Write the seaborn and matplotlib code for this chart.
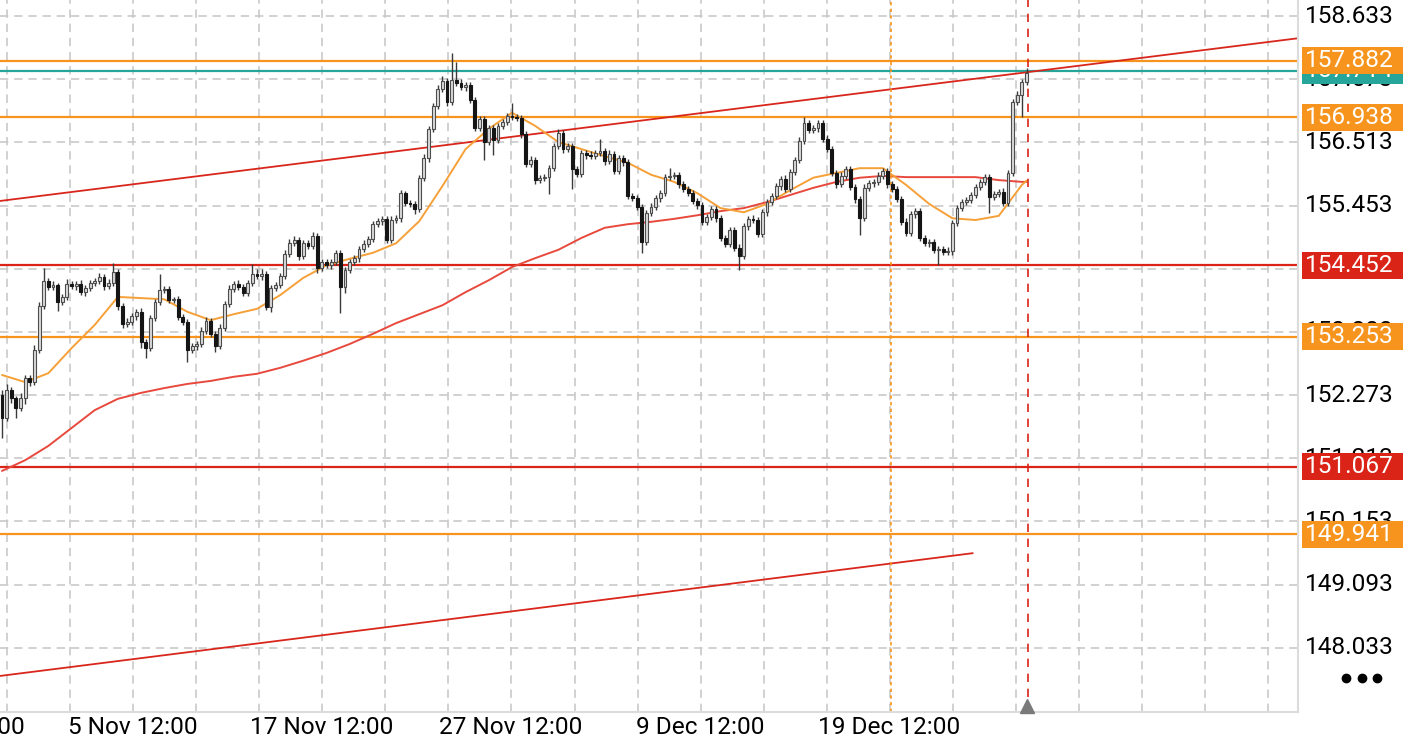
import numpy as np
import pandas as pd
import matplotlib
import matplotlib.pyplot as plt
import matplotlib.transforms as mtransforms
from matplotlib.patches import Rectangle
from matplotlib.lines import Line2D
import seaborn as sns

matplotlib.use('Agg')

# --- Data (one candle per entry) ---
first_open = 152.27
closes = [
    151.89, 152.36, 152.22, 152.06, 152.22, 152.56, 152.49, 153.03, 153.77, 154.19,
    154.09, 154.12, 153.83, 153.92, 154.14, 154.10, 154.14, 154.00, 154.07, 154.15,
    154.19, 154.25, 154.10, 154.15, 154.34, 153.77, 153.47, 153.50, 153.60, 153.67,
    153.16, 153.06, 153.57, 153.83, 154.03, 154.05, 153.87, 153.88, 153.58, 153.50,
    153.03, 153.10, 153.13, 153.35, 153.52, 153.30, 153.10, 153.40, 153.80, 154.05,
    154.14, 154.09, 153.99, 154.15, 154.30, 154.27, 154.30, 153.75, 154.07, 154.12,
    154.27, 154.64, 154.82, 154.87, 154.60, 154.82, 154.77, 154.94, 154.40, 154.50,
    154.45, 154.50, 154.65, 154.09, 154.37, 154.50, 154.57, 154.72, 154.81, 154.89,
    155.14, 155.19, 155.23, 154.87, 155.21, 155.24, 155.66, 155.50, 155.48, 155.39,
    155.92, 156.25, 156.74, 157.12, 157.41, 157.54, 157.19, 157.56, 157.51, 157.44,
    157.47, 157.22, 156.75, 156.90, 156.52, 156.75, 156.55, 156.79, 156.86, 156.96,
    156.94, 156.92, 156.65, 156.15, 156.22, 155.88, 155.92, 155.93, 156.08, 156.45,
    156.67, 156.40, 156.45, 156.06, 155.98, 156.33, 156.30, 156.28, 156.33, 156.37,
    156.20, 156.32, 156.03, 156.25, 156.18, 155.61, 155.58, 155.43, 154.84, 155.33,
    155.43, 155.58, 155.66, 155.93, 155.95, 155.97, 155.81, 155.73, 155.66, 155.53,
    155.46, 155.18, 155.26, 155.39, 155.24, 154.91, 154.81, 155.04, 154.74, 154.60,
    155.11, 155.23, 155.21, 154.97, 155.34, 155.51, 155.61, 155.78, 155.90, 155.73,
    156.02, 156.22, 156.54, 156.84, 156.72, 156.75, 156.84, 156.57, 156.40, 156.00,
    155.81, 155.95, 156.07, 155.76, 155.56, 155.24, 155.75, 155.83, 155.85, 155.95,
    156.03, 155.81, 155.73, 155.56, 155.18, 154.99, 155.31, 155.36, 154.91, 154.82,
    154.84, 154.71, 154.72, 154.67, 154.69, 155.16, 155.41, 155.51, 155.55, 155.63,
    155.76, 155.85, 155.93, 155.60, 155.65, 155.68, 155.50, 156.00, 157.19, 157.31,
    157.53, 157.68,
]
wick_up = [
    .08, .10, .05, .04, .08, .05, .05, .09, .06, .22,
    .05, .06, .04, .05, .08, .05, .04, .06, .05, .05,
    .05, .07, .05, .07, .15, .04, .05, .06, .05, .05,
    .06, .05, .05, .06, .28, .06, .05, .04, .05, .06,
    .05, .05, .05, .06, .07, .05, .04, .06, .05, .07,
    .05, .06, .05, .06, .18, .08, .08, .05, .05, .05,
    .05, .06, .07, .08, .05, .06, .05, .07, .05, .05,
    .06, .05, .05, .05, .05, .06, .05, .05, .06, .05,
    .05, .06, .05, .05, .06, .05, .05, .04, .05, .05,
    .05, .06, .05, .05, .06, .08, .05, .45, .30, .07,
    .05, .06, .05, .06, .05, .05, .06, .05, .05, .05,
    .22, .05, .05, .05, .06, .05, .05, .05, .06, .05,
    .06, .05, .05, .05, .06, .05, .05, .06, .05, .20,
    .05, .06, .05, .05, .05, .05, .06, .05, .05, .05,
    .06, .05, .05, .05, .13, .05, .05, .06, .05, .05,
    .05, .06, .05, .05, .05, .06, .05, .05, .05, .06,
    .05, .05, .06, .05, .05, .05, .06, .05, .05, .06,
    .05, .05, .06, .10, .05, .06, .05, .05, .06, .05,
    .05, .06, .05, .05, .05, .05, .06, .05, .05, .06,
    .05, .05, .06, .05, .05, .06, .05, .05, .06, .05,
    .05, .06, .05, .05, .06, .05, .05, .06, .05, .05,
    .06, .05, .05, .06, .05, .05, .06, .05, .05, .06,
    .05, .08,
]
wick_dn = [
    .34, .05, .08, .17, .05, .10, .07, .05, .05, .05,
    .05, .05, .15, .05, .05, .05, .07, .05, .06, .05,
    .05, .05, .06, .05, .05, .07, .08, .06, .05, .06,
    .10, .17, .05, .05, .05, .05, .06, .05, .05, .05,
    .20, .05, .07, .05, .05, .06, .10, .05, .05, .05,
    .05, .05, .06, .05, .05, .05, .06, .05, .08, .05,
    .05, .05, .05, .05, .06, .05, .05, .05, .08, .05,
    .05, .06, .05, .44, .10, .05, .05, .06, .05, .05,
    .05, .05, .06, .05, .05, .05, .06, .05, .05, .08,
    .05, .05, .06, .05, .05, .05, .06, .05, .05, .05,
    .06, .05, .05, .05, .30, .05, .25, .05, .06, .05,
    .05, .05, .06, .05, .05, .06, .05, .05, .28, .05,
    .05, .06, .05, .33, .05, .05, .06, .05, .05, .05,
    .06, .05, .05, .05, .06, .05, .05, .06, .18, .05,
    .05, .05, .06, .05, .05, .05, .06, .05, .05, .05,
    .06, .05, .05, .05, .06, .05, .05, .06, .05, .23,
    .05, .06, .05, .05, .05, .06, .05, .05, .06, .05,
    .05, .05, .06, .05, .05, .05, .06, .05, .05, .05,
    .06, .05, .05, .05, .06, .28, .05, .05, .06, .05,
    .05, .06, .05, .05, .06, .05, .05, .06, .05, .05,
    .06, .05, .25, .05, .05, .06, .05, .05, .05, .06,
    .05, .05, .06, .27, .05, .05, .06, .05, .05, .05,
    .37, .05,
]

# moving averages, sampled every 5 candles (+ last candle)
ma_index = list(range(0, 221, 5)) + [221]
ma_fast = [
    152.61, 152.49, 152.64, 153.06, 153.45, 153.92, 153.90, 153.88, 153.67, 153.53,
    153.63, 153.72, 153.95, 154.24, 154.45, 154.56, 154.66, 154.82, 155.19, 155.78,
    156.40, 156.74, 157.01, 156.79, 156.52, 156.40, 156.28, 156.17, 155.97, 155.85,
    155.66, 155.41, 155.34, 155.48, 155.71, 155.92, 156.00, 156.08, 156.08, 155.80,
    155.48, 155.24, 155.21, 155.28, 155.80, 155.87,
]
ma_slow = [
    151.00, 151.18, 151.42, 151.72, 152.02, 152.21, 152.31, 152.39, 152.46, 152.51,
    152.58, 152.63, 152.73, 152.85, 152.98, 153.13, 153.30, 153.48, 153.63, 153.78,
    154.00, 154.20, 154.42, 154.57, 154.71, 154.91, 155.08, 155.14, 155.18, 155.23,
    155.29, 155.36, 155.41, 155.51, 155.63, 155.75, 155.85, 155.92, 155.95, 155.93,
    155.93, 155.93, 155.93, 155.88, 155.85, 155.85,
]

price_ticks = [158.633, 157.573, 156.513, 155.453, 154.393, 153.333,
               152.273, 151.213, 150.153, 149.093, 148.033]
levels = [157.714, 157.882, 156.938, 154.452, 153.253, 151.067, 149.941]
level_colors = ['#26A69A', '#F7941D', '#F7941D', '#DA2418', '#F7941D', '#DA2418', '#F7941D']

date_labels = ['24 Oct 12:00', '5 Nov 12:00', '17 Nov 12:00', '27 Nov 12:00',
               '9 Dec 12:00', '19 Dec 12:00']
date_pos = [-12.5, 28.3, 69.0, 109.8, 150.6, 191.3]

trend_upper_x = [-0.43, 279.55]
trend_upper_y = [155.53, 158.26]
trend_lower_x = [-0.43, 209.4]
trend_lower_y = [147.56, 149.62]
session_marker = 191.8
last_bar_marker = 221.3

# --- build frame ---
df = pd.DataFrame({'close': closes, 'up_wick': wick_up, 'dn_wick': wick_dn})
df['open'] = [first_open] + closes[:-1]
df['high'] = df[['open', 'close']].max(axis=1) + df['up_wick']
df['low'] = df[['open', 'close']].min(axis=1) - df['dn_wick']
df['bar'] = np.arange(len(df))
df['rising'] = df['close'] >= df['open']

# --- figure ---
sns.set_style('white')
plt.rcParams['font.family'] = ['Roboto', 'DejaVu Sans']
FS = 17.6

fig = plt.figure(figsize=(14.21, 7.44), dpi=100)
ax = fig.add_axes([0, 32 / 744, 1298 / 1421, 712 / 744])
ax.set_xlim(-0.43, 279.55)
ax.set_ylim(146.955, 158.902)

grid_kw = dict(color='#c9c9c9', lw=1.2, dashes=(5, 3.5), zorder=0)
for p in price_ticks:
    ax.axhline(p, **grid_kw)
step = (date_pos[1] - date_pos[0]) / 3
for g in np.arange(date_pos[0], 280, step):
    ax.axvline(g, **grid_kw)

# price levels
for lv, col in zip(levels, level_colors):
    ax.axhline(lv, color=col, lw=1.6, zorder=1)

# trend lines
ax.plot(trend_upper_x, trend_upper_y, color='#D9261C', lw=1.3, zorder=2)
ax.plot(trend_lower_x, trend_lower_y, color='#D9261C', lw=1.3, zorder=2)

# moving averages
sns.lineplot(x=ma_index, y=ma_slow, ax=ax, color='#E8493D', lw=1.4, zorder=2)
sns.lineplot(x=ma_index, y=ma_fast, ax=ax, color='#F6A038', lw=1.4, zorder=2)

# vertical markers
ax.axvline(session_marker, color='#F7941D', lw=1.2, dashes=(2, 2), zorder=2)
ax.axvline(last_bar_marker, color='#DA2418', lw=1.2, dashes=(5, 4), zorder=2)

# candles
ax.vlines(df['bar'], df['low'], df['high'], color='#3a3a3a', lw=1.0, zorder=3)
body_h = (df['close'] - df['open']).abs().clip(lower=0.02)
body_b = df[['open', 'close']].min(axis=1)
up = df['rising']
ax.bar(df['bar'][up], body_h[up], bottom=body_b[up], width=0.62,
       color='#dadada', edgecolor='#4d4d4d', lw=0.8, zorder=4)
ax.bar(df['bar'][~up], body_h[~up], bottom=body_b[~up], width=0.62,
       color='#151515', edgecolor='#151515', lw=0.8, zorder=4)

# axes frame
ax.set_xticks([])
ax.set_yticks([])
for side in ['top', 'left']:
    ax.spines[side].set_visible(False)
for side in ['right', 'bottom']:
    ax.spines[side].set_color('#dcdcdc')
    ax.spines[side].set_linewidth(1.5)

# right price labels (coloured level tags sit on top, as in the app)
ytrans = mtransforms.blended_transform_factory(fig.transFigure, ax.transData)
for p in price_ticks:
    ax.text(1305 / 1421, p, f'{p:.3f}', transform=ytrans, ha='left', va='center',
            fontsize=FS, color='black', zorder=4)
for k, (lv, col) in enumerate(zip(levels, level_colors)):
    ax.add_patch(Rectangle((1302 / 1421, lv - 0.2265), 101 / 1421, 0.453,
                           transform=ytrans, facecolor=col, edgecolor='none',
                           clip_on=False, zorder=5 + k))
    ax.text(1305 / 1421, lv, f'{lv:.3f}', transform=ytrans, ha='left', va='center',
            fontsize=FS, color='white', zorder=5 + k)

# date labels (first one runs off the left edge, as in the reference)
xtrans = mtransforms.blended_transform_factory(ax.transData, fig.transFigure)
for pos, lab in zip(date_pos, date_labels):
    shift = 2.6 if pos < 0 else 0.0
    ax.text(pos + shift, 1 - 727 / 744, lab, transform=xtrans, ha='center',
            va='center', fontsize=FS, color='black')

# last-bar marker and menu dots
mtrans = mtransforms.blended_transform_factory(ax.transData, ax.transAxes)
ax.plot([df['bar'].iloc[-1]], [0.008], marker='^', ms=10, color='#7a7a7a',
        transform=mtrans, clip_on=False, zorder=8)
fig.add_artist(Line2D([1346 / 1421, 1362 / 1421, 1377 / 1421], [1 - 678 / 744] * 3,
                      transform=fig.transFigure, marker='o', ls='none', ms=6,
                      color='black'))

fig.savefig('out.png', dpi=100)
plt.close(fig)
